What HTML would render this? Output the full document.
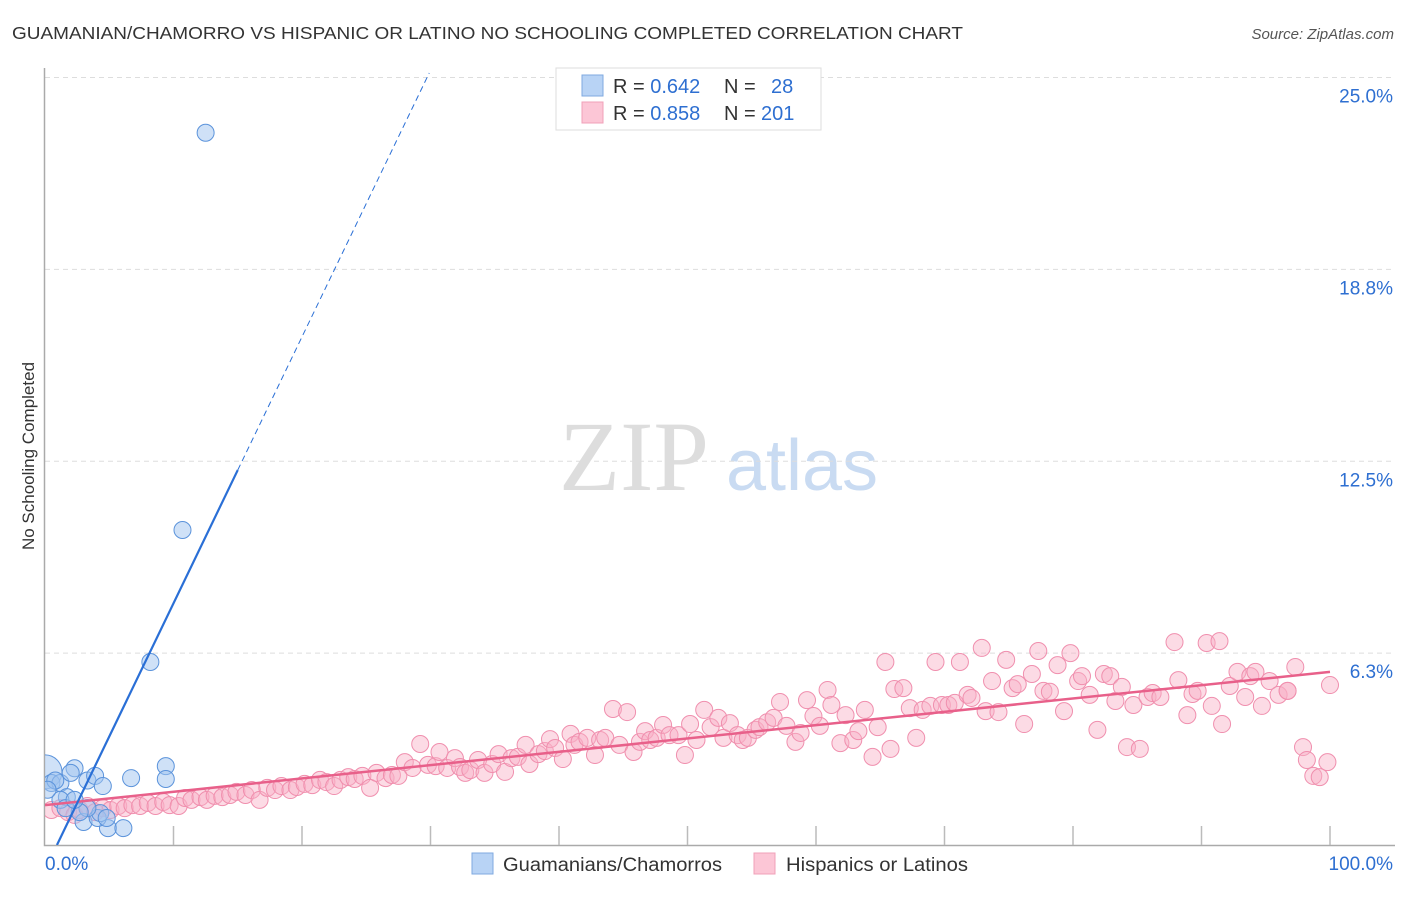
<!DOCTYPE html>
<html><head><meta charset="utf-8"><style>
body{margin:0;background:#fff;font-family:"Liberation Sans",sans-serif}
</style></head><body>
<svg id="c" width="1406" height="892" xmlns="http://www.w3.org/2000/svg">
<defs><clipPath id="pc"><rect x="45" y="60" width="1360" height="785"/></clipPath></defs>
<text x="12" y="39" font-size="17.5" fill="#333" textLength="951" lengthAdjust="spacingAndGlyphs">GUAMANIAN/CHAMORRO VS HISPANIC OR LATINO NO SCHOOLING COMPLETED CORRELATION CHART</text>
<text x="1394" y="39" font-size="15" fill="#555" font-style="italic" text-anchor="end">Source: ZipAtlas.com</text>
<text transform="translate(34,456) rotate(-90)" font-size="17" fill="#333" text-anchor="middle">No Schooling Completed</text>
<g><text x="634" y="490" font-size="100" font-family="Liberation Serif,serif" fill="#ddd" text-anchor="middle">ZIP</text><text x="802" y="490" font-size="72" fill="#c9dbf2" text-anchor="middle">atlas</text></g>
<g id="grid"></g><g id="marks" clip-path="url(#pc)"></g>
<g>
<rect x="556" y="68" width="265" height="62" fill="#fff" stroke="#ddd"/>
<rect x="582" y="75" width="21" height="21" fill="#b8d3f5" stroke="#7fa9e0"/>
<rect x="582" y="102" width="21" height="21" fill="#fcc6d6" stroke="#f0a0b8"/>
<text x="613" y="93" font-size="20" fill="#333">R = <tspan fill="#2e6fd1">0.642</tspan><tspan x="724">N = </tspan><tspan x="771" fill="#2e6fd1">28</tspan></text>
<text x="613" y="120" font-size="20" fill="#333">R = <tspan fill="#2e6fd1">0.858</tspan><tspan x="724">N = </tspan><tspan x="761" fill="#2e6fd1">201</tspan></text>
</g>
<g>
<rect x="472" y="853" width="21" height="21" fill="#b8d3f5" stroke="#7fa9e0"/>
<text x="503" y="871" font-size="19" fill="#333" textLength="219" lengthAdjust="spacingAndGlyphs">Guamanians/Chamorros</text>
<rect x="754" y="853" width="21" height="21" fill="#fcc6d6" stroke="#f0a0b8"/>
<text x="786" y="871" font-size="19" fill="#333" textLength="182" lengthAdjust="spacingAndGlyphs">Hispanics or Latinos</text>
</g>
<text x="45" y="870" font-size="19" fill="#2e6fd1">0.0%</text>
<text x="1393" y="870" font-size="19" fill="#2e6fd1" text-anchor="end">100.0%</text>
</svg>
<script>
const yTicks=[25,18.75,12.5,6.25];
const yTickLabels=["25.0%","18.8%","12.5%","6.3%"];
const blueX=[0,0.5,1.2,2.3,2.0,3.3,3.9,4.5,6.7,9.4,9.4,4.9,6.1,3.0,4.1,1.7,1.2,8.2,10.7,12.5,4.3,3.3,2.7,4.8,1.6,2.3,0.8,0.2];
const blueY=[2.38,2.02,2.02,2.5,2.35,2.1,2.25,1.92,2.18,2.57,2.15,0.55,0.55,0.75,0.88,1.56,1.47,5.96,10.26,23.2,1.04,1.2,1.07,0.88,1.2,1.47,2.1,1.8];
const pinkX=[0.5,1.2,1.8,2.3,2.7,3.3,3.9,4.5,5.1,5.7,6.2,6.8,7.4,8.0,8.6,9.2,9.7,10.4,10.9,11.4,12.1,12.6,13.2,13.8,14.4,14.9,15.6,16.1,16.7,17.3,17.9,18.4,19.1,19.6,20.2,20.8,21.4,21.9,22.5,23.0,23.6,24.1,24.7,25.3,25.8,26.5,27.0,27.5,28.0,28.6,29.2,29.8,30.4,30.7,31.3,31.9,32.3,32.7,33.1,33.7,34.2,34.8,35.3,35.8,36.3,36.8,37.4,37.7,38.4,38.9,39.3,39.7,40.3,40.9,41.2,41.6,42.2,42.8,43.2,43.6,44.2,44.7,45.3,45.8,46.3,46.7,47.1,47.6,48.1,48.6,49.3,49.8,50.2,50.7,51.3,51.8,52.4,52.8,53.3,53.9,54.3,54.7,55.3,55.6,56.2,56.7,57.2,57.7,58.4,58.8,59.3,59.8,60.3,60.9,61.2,61.9,62.3,62.9,63.3,63.8,64.4,64.8,65.4,65.8,66.1,66.8,67.3,67.8,68.3,68.9,69.3,69.8,70.3,70.8,71.2,71.8,72.1,72.9,73.2,73.7,74.2,74.8,75.3,75.7,76.2,76.8,77.3,77.7,78.2,78.8,79.3,79.8,80.4,80.7,81.3,81.9,82.4,82.9,83.3,83.8,84.2,84.7,85.2,85.8,86.2,86.8,87.9,88.2,88.9,89.3,89.7,90.4,90.8,91.4,91.6,92.2,92.8,93.4,93.8,94.2,94.7,95.3,96.0,96.7,97.3,97.9,98.2,98.7,99.2,99.8,100,96.7];
const pinkY=[1.14,1.2,1.07,0.98,1.14,1.27,1.07,1.2,1.14,1.27,1.2,1.3,1.27,1.37,1.27,1.4,1.3,1.27,1.53,1.47,1.56,1.47,1.6,1.56,1.63,1.73,1.63,1.79,1.47,1.86,1.79,1.92,1.79,1.89,1.99,1.95,2.12,2.05,1.92,2.12,2.21,2.15,2.25,1.86,2.35,2.18,2.28,2.25,2.7,2.51,3.29,2.61,2.57,3.03,2.51,2.83,2.54,2.35,2.44,2.77,2.35,2.64,2.96,2.38,2.83,2.87,3.26,2.64,2.96,3.06,3.45,3.16,2.8,3.62,3.26,3.36,3.49,2.93,3.42,3.49,4.43,3.26,4.33,3.03,3.36,3.71,3.42,3.49,3.91,3.58,3.58,2.93,3.94,3.42,4.4,3.84,4.14,3.49,3.97,3.58,3.42,3.49,3.75,3.84,4.0,4.14,4.66,3.88,3.36,3.65,4.72,4.2,3.88,5.05,4.56,3.32,4.23,3.42,3.71,4.4,2.87,3.84,5.96,3.13,5.08,5.11,4.46,3.49,4.4,4.53,5.96,4.56,4.56,4.63,5.96,4.89,4.79,6.42,4.36,5.34,4.33,6.03,5.11,5.24,3.94,5.57,6.32,5.02,4.99,5.86,4.36,6.25,5.34,5.5,4.89,3.75,5.57,5.5,4.69,5.15,3.19,4.56,3.13,4.82,4.95,4.82,6.61,5.37,4.23,4.92,5.02,6.58,4.53,6.64,3.94,5.18,5.64,4.82,5.5,5.64,4.53,5.34,4.89,5.02,5.8,3.19,2.77,2.25,2.21,2.7,5.21,5.02];
const X=v=>45+v*12.85, Y=v=>845-v*30.7;
const NS='http://www.w3.org/2000/svg';
const g=document.getElementById('grid'), m=document.getElementById('marks');
function mk(t,a,p){const e=document.createElementNS(NS,t);for(const k in a)e.setAttribute(k,a[k]);p.appendChild(e);return e;}
yTicks.forEach((t,i)=>{
 const l=mk('line',{x1:45,x2:1395,y1:Y(t),y2:Y(t),stroke:'#ddd','stroke-dasharray':'5,4'},g);
 
 
 const tx=mk('text',{x:1393,y:Y(t)+25,'font-size':19,fill:'#2e6fd1','text-anchor':'end'},g);
 tx.textContent=yTickLabels[i];
 
 
});
const ax=mk('path',{d:`M44.5 68V845.5H1395`,stroke:'#aaa',fill:'none','stroke-width':1.5},g);


for(let i=1;i<=10;i++){const tk=mk('line',{x1:X(i*10),x2:X(i*10),y1:826,y2:845,stroke:'#bbb','stroke-width':1.5},g);
 
 }
pinkX.forEach((x,i)=>{const c=mk('circle',{cx:X(x),cy:Y(pinkY[i]),r:8.5,fill:'rgba(248,175,198,0.45)',stroke:'#f08fae','stroke-width':1},m);
 
 });
blueX.forEach((x,i)=>{const c=mk('circle',{cx:X(x),cy:Y(blueY[i]),r:i===0?17:8.5,fill:'rgba(160,196,240,0.5)',stroke:'#5b93db','stroke-width':1},m);
 
 });
const pl=mk('line',{x1:X(0),y1:Y(1.3),x2:X(100),y2:Y(5.64),stroke:'#e8608a','stroke-width':2.5},m);


const bs=(x)=>(x-0.93)*0.868;
const bl=mk('line',{x1:X(0.93),y1:Y(0),x2:X(15),y2:Y(bs(15)),stroke:'#2a6fd6','stroke-width':2.2},m);


const bd=mk('line',{x1:X(15),y1:Y(bs(15)),x2:X(29.9),y2:Y(bs(29.9)),stroke:'#2a6fd6','stroke-width':1,'stroke-dasharray':'6,4'},m);


</script>
</body></html>
